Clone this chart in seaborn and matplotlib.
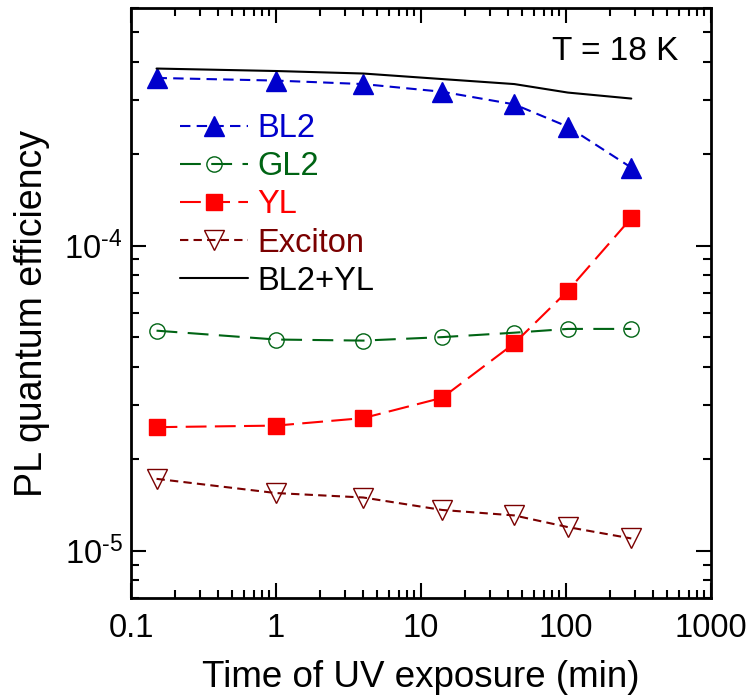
import numpy as np
import pandas as pd
import matplotlib
matplotlib.use("Agg")
import matplotlib.pyplot as plt
import matplotlib.ticker as mticker
import seaborn as sns

# ---- data ----
time_min = [0.15, 1.0, 4.0, 14.0, 44.0, 103.0, 282.0]
bl2 = [3.54e-4, 3.47e-4, 3.38e-4, 3.19e-4, 2.90e-4, 2.45e-4, 1.80e-4]
gl2 = [5.26e-5, 4.92e-5, 4.88e-5, 5.01e-5, 5.18e-5, 5.33e-5, 5.33e-5]
yl = [2.54e-5, 2.57e-5, 2.72e-5, 3.17e-5, 4.78e-5, 7.11e-5, 1.23e-4]
exciton = [1.72e-5, 1.545e-5, 1.494e-5, 1.36e-5, 1.305e-5, 1.195e-5, 1.097e-5]
bl2_yl = [3.80e-4, 3.73e-4, 3.66e-4, 3.51e-4, 3.38e-4, 3.17e-4, 3.03e-4]

series_names = ["BL2", "GL2", "YL", "Exciton", "BL2+YL"]
x_ticks = [0.1, 1, 10, 100, 1000]
x_tick_labels = ["0.1", "1", "10", "100", "1000"]

sns.set_theme(style="ticks")
plt.rcParams["font.family"] = ["Liberation Sans", "DejaVu Sans"]
plt.rcParams["mathtext.fontset"] = "custom"
plt.rcParams["mathtext.rm"] = "Liberation Sans"
plt.rcParams["mathtext.it"] = "Liberation Sans:italic"
plt.rcParams["mathtext.default"] = "regular"
for key in ["text.color", "axes.labelcolor", "xtick.color", "ytick.color",
            "xtick.labelcolor", "ytick.labelcolor", "axes.edgecolor"]:
    plt.rcParams[key] = "black"

fig = plt.figure(figsize=(7.47, 7.0), dpi=100)
ax = fig.add_axes([131 / 747, 1 - 598 / 700, 580 / 747, 590 / 700])

styles = {
    "BL2": dict(color="#0000CC", marker="^", ms=14.5, mfc="#0000CC", mec="#0000CC",
                ls=(0, (5, 3)), lw=1.5, mew=1),
    "GL2": dict(color="#006414", marker="o", ms=11, mfc="none", mec="#006414",
                ls=(0, (10, 5)), lw=1.5, mew=1),
    "YL": dict(color="#FF0000", marker="s", ms=12, mfc="#FF0000", mec="#FF0000",
               ls=(0, (10, 4)), lw=1.5, mew=1),
    "Exciton": dict(color="#7A0000", marker="v", ms=14.5, mfc="none", mec="#7A0000",
                    ls=(0, (4, 2.5)), lw=1.5, mew=1),
    "BL2+YL": dict(color="black", marker=None, ls="-", lw=1.5),
}
values = {"BL2": bl2, "GL2": gl2, "YL": yl, "Exciton": exciton, "BL2+YL": bl2_yl}

handles = []
for name in series_names:
    df = pd.DataFrame({"t": time_min, "v": values[name]})
    st = styles[name]
    kw = dict(linestyle=st["ls"], linewidth=st["lw"])
    if st["marker"]:
        kw.update(marker=st["marker"], markersize=st["ms"], markerfacecolor=st["mfc"],
                  markeredgecolor=st["mec"], markeredgewidth=st["mew"])
    sns.lineplot(data=df, x="t", y="v", ax=ax, color=st["color"], errorbar=None,
                 sort=False, label=name, legend=False, **kw)
    handles.append(ax.lines[-1])

ax.set_xscale("log")
ax.set_yscale("log")
ax.set_xlim(0.1, 1000)
ax.set_ylim(7e-6, 6e-4)


def ylog_fmt(v, pos):
    e = int(round(np.log10(v)))
    if e < 0:
        return r"$10^{\text{-}%d}$" % (-e)
    return r"$10^{%d}$" % e


ax.xaxis.set_major_locator(mticker.FixedLocator(x_ticks))
ax.xaxis.set_major_formatter(mticker.FixedFormatter(x_tick_labels))
ax.xaxis.set_minor_locator(mticker.LogLocator(base=10, subs=np.arange(2, 10)))
ax.xaxis.set_minor_formatter(mticker.NullFormatter())
ax.yaxis.set_major_locator(mticker.LogLocator(base=10))
ax.yaxis.set_major_formatter(mticker.FuncFormatter(ylog_fmt))
ax.yaxis.set_minor_locator(mticker.LogLocator(base=10, subs=np.arange(2, 10)))
ax.yaxis.set_minor_formatter(mticker.NullFormatter())

for sp in ax.spines.values():
    sp.set_linewidth(2.0)
    sp.set_color("black")
    sp.set_visible(True)
ax.tick_params(which="both", direction="in", top=True, right=True, color="black",
               labelcolor="black", width=1.5)
ax.tick_params(which="major", length=11, labelsize=23.5)
ax.tick_params(axis="x", which="major", pad=11)
ax.tick_params(axis="y", which="major", pad=6)
ax.tick_params(which="minor", length=6)

ax.set_xlabel("Time of UV exposure (min)", fontsize=26.5, va="top", color="black")
ax.xaxis.set_label_coords(0.5, -0.105)
ax.set_ylabel("PL quantum efficiency", fontsize=27, color="black")
ax.yaxis.set_label_coords(-0.14, 0.483)

leg = ax.legend(handles=handles, labels=series_names, loc="upper left",
                bbox_to_anchor=(180 / 747, 1 - 113 / 700), bbox_transform=fig.transFigure,
                frameon=False, fontsize=23.5, numpoints=1, handlelength=2.09,
                handletextpad=0.28, labelspacing=0.22, borderpad=0, borderaxespad=0)
for txt, name in zip(leg.get_texts(), series_names):
    txt.set_color(styles[name]["color"])

fig.text(678 / 747, 1 - 52 / 700, "T = 18 K", ha="right", va="center", fontsize=24,
         color="black")

fig.savefig("out.png", dpi=100)
